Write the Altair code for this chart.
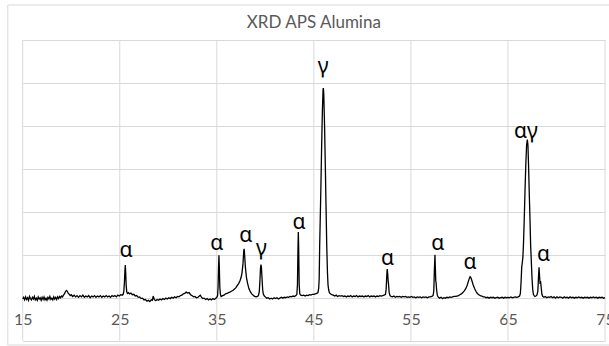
import altair as alt
import pandas as pd

# 2-theta positions (degrees) and relative intensity (in gridline units)
two_theta = [
    15.0, 15.1, 15.2, 15.3, 15.4, 15.5, 15.6, 15.7, 15.8, 15.9,
    16.0, 16.1, 16.2, 16.3, 16.4, 16.5, 16.6, 16.7, 16.8, 16.9,
    17.0, 17.1, 17.2, 17.3, 17.4, 17.5, 17.6, 17.7, 17.8, 17.9,
    18.0, 18.1, 18.2, 18.3, 18.4, 18.5, 18.6, 18.7, 18.8, 18.9,
    19.0, 19.1, 19.2, 19.3, 19.4, 19.5, 19.6, 19.7, 19.8, 19.9,
    20.0, 20.15, 20.3, 20.45, 20.6, 20.75, 20.9, 21.05, 21.2, 21.35,
    21.5, 21.65, 21.8, 21.95, 22.1, 22.25, 22.4, 22.55, 22.7, 22.85,
    23.0, 23.15, 23.3, 23.45, 23.6, 23.75, 23.9, 24.05, 24.2, 24.35,
    24.5, 24.65, 24.8, 24.95, 25.1, 25.25, 25.35, 25.42, 25.48, 25.53,
    25.57, 25.61, 25.66, 25.72, 25.8, 25.9, 26.0, 26.15, 26.3, 26.45,
    26.6, 26.75, 26.9, 27.05, 27.2, 27.35, 27.5, 27.65, 27.8, 27.95,
    28.1, 28.25, 28.35, 28.45, 28.55, 28.7, 28.85, 29.0, 29.15, 29.3,
    29.45, 29.6, 29.75, 29.9, 30.05, 30.2, 30.35, 30.5, 30.65, 30.8,
    30.95, 31.1, 31.25, 31.4, 31.55, 31.7, 31.85, 32.0, 32.15, 32.3,
    32.45, 32.6, 32.75, 32.9, 33.05, 33.2, 33.3, 33.4, 33.55, 33.7,
    33.85, 34.0, 34.15, 34.3, 34.45, 34.6, 34.75, 34.9, 35.0, 35.08,
    35.13, 35.18, 35.22, 35.26, 35.31, 35.37, 35.45, 35.6, 35.75, 35.9,
    36.05, 36.2, 36.35, 36.5, 36.65, 36.8, 36.95, 37.1, 37.25, 37.4,
    37.5, 37.6, 37.7, 37.78, 37.82, 37.88, 37.95, 38.05, 38.15, 38.3,
    38.45, 38.6, 38.75, 38.9, 39.05, 39.2, 39.3, 39.38, 39.45, 39.5,
    39.55, 39.6, 39.66, 39.73, 39.8, 39.9, 40.0, 40.15, 40.3, 40.45,
    40.6, 40.75, 40.9, 41.05, 41.2, 41.35, 41.5, 41.65, 41.8, 41.95,
    42.1, 42.25, 42.4, 42.55, 42.7, 42.85, 43.0, 43.15, 43.25, 43.31,
    43.36, 43.4, 43.44, 43.49, 43.55, 43.65, 43.8, 43.95, 44.1, 44.25,
    44.4, 44.55, 44.7, 44.85, 45.0, 45.15, 45.3, 45.42, 45.5, 45.55,
    45.6, 45.66, 45.72, 45.8, 45.88, 45.95, 45.98, 46.02, 46.1, 46.18,
    46.25, 46.33, 46.4, 46.46, 46.53, 46.6, 46.7, 46.85, 47.0, 47.15,
    47.3, 47.45, 47.6, 47.75, 47.9, 48.05, 48.2, 48.35, 48.5, 48.65,
    48.8, 48.95, 49.1, 49.25, 49.4, 49.55, 49.7, 49.85, 50.0, 50.15,
    50.3, 50.45, 50.6, 50.75, 50.9, 51.05, 51.2, 51.35, 51.5, 51.65,
    51.8, 51.95, 52.1, 52.25, 52.38, 52.45, 52.51, 52.56, 52.61, 52.66,
    52.7, 52.76, 52.85, 52.95, 53.1, 53.25, 53.4, 53.55, 53.7, 53.85,
    54.0, 54.15, 54.3, 54.45, 54.6, 54.75, 54.9, 55.05, 55.2, 55.35,
    55.5, 55.65, 55.8, 55.95, 56.1, 56.25, 56.4, 56.55, 56.7, 56.85,
    57.0, 57.15, 57.28, 57.36, 57.42, 57.48, 57.52, 57.56, 57.6, 57.65,
    57.72, 57.8, 57.95, 58.1, 58.25, 58.4, 58.55, 58.7, 58.85, 59.0,
    59.15, 59.3, 59.45, 59.6, 59.75, 59.9, 60.05, 60.2, 60.35, 60.5,
    60.65, 60.8, 60.92, 61.02, 61.1, 61.18, 61.28, 61.4, 61.55, 61.7,
    61.85, 62.0, 62.15, 62.3, 62.45, 62.6, 62.75, 62.9, 63.05, 63.2,
    63.35, 63.5, 63.65, 63.8, 63.95, 64.1, 64.25, 64.4, 64.55, 64.7,
    64.85, 65.0, 65.15, 65.3, 65.45, 65.6, 65.75, 65.9, 66.05, 66.2,
    66.28, 66.35, 66.42, 66.48, 66.54, 66.6, 66.68, 66.76, 66.84, 66.92,
    67.0, 67.06, 67.12, 67.2, 67.27, 67.34, 67.4, 67.47, 67.55, 67.62,
    67.7, 67.78, 67.88, 67.98, 68.08, 68.14, 68.2, 68.26, 68.31, 68.36,
    68.42, 68.5, 68.58, 68.7, 68.85, 69.0, 69.15, 69.3, 69.45, 69.6,
    69.75, 69.9, 70.05, 70.2, 70.35, 70.5, 70.65, 70.8, 70.95, 71.1,
    71.25, 71.4, 71.55, 71.7, 71.85, 72.0, 72.15, 72.3, 72.45, 72.6,
    72.75, 72.9, 73.05, 73.2, 73.35, 73.5, 73.65, 73.8, 73.95, 74.1,
    74.25, 74.4, 74.55, 74.7, 74.85, 75.0,
]

intensity = [
    -0.03, 0.01, -0.05, 0.02, -0.04, 0.00, -0.06, 0.03, -0.02, -0.05,
    0.01, -0.03, 0.03, -0.05, -0.01, -0.06, 0.02, -0.03, 0.00, -0.06,
    0.01, -0.04, 0.02, -0.05, -0.01, -0.06, 0.01, -0.03, 0.03, -0.04,
    -0.01, -0.05, 0.02, -0.03, 0.01, -0.04, 0.02, -0.02, 0.03, 0.00,
    0.04, 0.02, 0.06, 0.09, 0.14, 0.17, 0.15, 0.10, 0.08, 0.05,
    0.07, 0.03, 0.06, 0.02, 0.05, 0.01, 0.05, 0.02, 0.06, 0.01,
    0.04, 0.02, 0.05, 0.00, 0.04, 0.02, 0.05, 0.01, 0.04, 0.02,
    0.05, 0.01, 0.04, 0.02, 0.05, 0.02, 0.04, 0.01, 0.05, 0.03,
    0.05, 0.02, 0.06, 0.04, 0.07, 0.06, 0.08, 0.15, 0.35, 0.62,
    0.76, 0.60, 0.30, 0.14, 0.10, 0.12, 0.09, 0.11, 0.07, 0.08,
    0.04, 0.05, 0.01, 0.02, -0.02, -0.01, -0.05, -0.04, -0.08, -0.06,
    -0.09, -0.05, -0.06, 0.04, -0.04, -0.07, -0.04, -0.06, -0.03, -0.05,
    -0.02, -0.04, -0.01, -0.03, 0.00, -0.02, 0.01, -0.01, 0.02, 0.00,
    0.03, 0.02, 0.05, 0.06, 0.09, 0.10, 0.13, 0.11, 0.12, 0.07,
    0.05, 0.02, 0.03, 0.00, 0.01, 0.04, 0.06, 0.02, -0.02, -0.01,
    -0.04, -0.02, -0.05, -0.03, -0.05, -0.02, -0.04, -0.01, 0.01, 0.05,
    0.25, 0.70, 0.99, 0.72, 0.25, 0.08, 0.03, 0.05, 0.06, 0.09,
    0.10, 0.12, 0.13, 0.15, 0.17, 0.20, 0.23, 0.28, 0.33, 0.40,
    0.47, 0.58, 0.80, 1.10, 1.14, 0.95, 0.70, 0.48, 0.36, 0.22,
    0.14, 0.09, 0.06, 0.03, 0.02, 0.03, 0.06, 0.15, 0.42, 0.68,
    0.77, 0.70, 0.45, 0.18, 0.08, 0.04, 0.02, -0.01, 0.00, -0.03,
    -0.01, -0.03, 0.00, -0.02, 0.00, -0.03, -0.01, 0.01, -0.01, 0.01,
    0.00, 0.02, 0.01, 0.03, 0.02, 0.04, 0.03, 0.05, 0.08, 0.30,
    1.10, 1.53, 1.10, 0.30, 0.09, 0.06, 0.05, 0.06, 0.04, 0.06,
    0.05, 0.07, 0.06, 0.08, 0.08, 0.09, 0.10, 0.12, 0.22, 0.45,
    1.20, 1.85, 2.50, 3.50, 4.35, 4.85, 4.88, 4.75, 4.05, 3.10,
    2.20, 1.20, 0.60, 0.30, 0.18, 0.12, 0.09, 0.07, 0.06, 0.04,
    0.06, 0.03, 0.05, 0.04, 0.05, 0.03, 0.04, 0.02, 0.04, 0.03,
    0.05, 0.02, 0.04, 0.03, 0.05, 0.02, 0.04, 0.03, 0.04, 0.02,
    0.04, 0.03, 0.05, 0.02, 0.04, 0.03, 0.04, 0.02, 0.04, 0.03,
    0.05, 0.04, 0.05, 0.06, 0.08, 0.20, 0.50, 0.67, 0.55, 0.38,
    0.30, 0.12, 0.05, 0.03, 0.02, 0.04, 0.01, 0.03, 0.02, 0.03,
    0.01, 0.03, 0.02, 0.03, 0.01, 0.02, 0.01, 0.03, 0.01, 0.02,
    0.00, 0.02, 0.01, 0.02, 0.00, 0.02, 0.01, 0.02, 0.00, 0.02,
    0.02, 0.03, 0.05, 0.15, 0.65, 1.00, 0.70, 0.40, 0.34, 0.18,
    0.06, 0.02, -0.01, 0.01, -0.02, 0.00, -0.01, 0.01, 0.00, 0.02,
    0.01, 0.02, 0.03, 0.03, 0.04, 0.05, 0.07, 0.09, 0.12, 0.16,
    0.21, 0.29, 0.38, 0.45, 0.49, 0.47, 0.40, 0.31, 0.22, 0.15,
    0.10, 0.07, 0.05, 0.04, 0.02, 0.02, 0.00, 0.01, -0.01, 0.01,
    0.00, 0.01, -0.01, 0.00, 0.01, -0.01, 0.00, 0.01, -0.01, 0.01,
    0.00, 0.01, 0.00, 0.02, 0.00, 0.01, 0.02, 0.01, 0.02, 0.04,
    0.10, 0.35, 0.72, 0.82, 0.95, 1.25, 1.84, 2.50, 3.10, 3.55,
    3.68, 3.55, 3.10, 2.40, 1.84, 1.20, 0.90, 0.50, 0.20, 0.08,
    0.05, 0.03, 0.04, 0.06, 0.15, 0.45, 0.71, 0.50, 0.32, 0.39,
    0.25, 0.08, 0.03, 0.01, 0.03, 0.00, 0.02, 0.01, 0.03, 0.00,
    0.02, -0.01, 0.02, 0.00, 0.02, 0.01, -0.01, 0.02, 0.00, 0.01,
    -0.01, 0.02, 0.00, 0.01, -0.01, 0.01, 0.00, 0.02, 0.00, 0.01,
    -0.01, 0.01, 0.00, 0.01, -0.01, 0.01, 0.00, 0.02, 0.00, 0.01,
    -0.01, 0.01, 0.00, 0.01, -0.01, 0.00,
]

# Phase annotations
label_x = [25.64, 35.0, 38.0, 39.61, 43.47, 45.95, 52.6, 57.78, 61.09, 66.86, 68.67]
label_y = [0.95, 1.12, 1.30, 1.0, 1.61, 5.23, 0.76, 1.11, 0.66, 3.72, 0.85]
label_text = ["α", "α", "α", "γ", "α", "γ", "α", "α", "α", "αγ", "α"]

x_ticks = [15, 25, 35, 45, 55, 65, 75]
y_grid = [-1, 0, 1, 2, 3, 4, 5, 6]
chart_title = "XRD APS Alumina"

assert len(two_theta) == len(intensity)

W, H = 582.3, 300.7
GRID = "#D9D9D9"
GRAY = "#595959"

xs = alt.Scale(domain=[15, 75], nice=False, zero=False)
ys = alt.Scale(domain=[-1, 6], nice=False, zero=False)

x_axis = alt.Axis(
    values=x_ticks, grid=False, domain=False, ticks=False, tickSize=0,
    labelFont="Lato", labelFontSize=16, labelColor=GRAY,
    labelBaseline="alphabetic", labelPadding=25.7, offset=-42.4,
    title=None, labelFlush=False,
)
y_axis = alt.Axis(
    values=y_grid, grid=True, gridColor=GRID, gridWidth=1,
    labels=False, ticks=False, domain=False, title=None,
)

pattern = pd.DataFrame({"two_theta": two_theta, "intensity": intensity})
labels_df = pd.DataFrame({"x": label_x, "y": label_y, "t": label_text})
vgrid_df = pd.DataFrame({"v": x_ticks})

frame = alt.Chart(pd.DataFrame({"k": [0]})).mark_rect(
    fill="transparent", stroke=GRID, strokeWidth=1
).encode(
    x=alt.value(-14.9), x2=alt.value(600), y=alt.value(-35), y2=alt.value(305)
)

vgrid = alt.Chart(vgrid_df).mark_rule(color=GRID, strokeWidth=1).encode(
    x=alt.X("v:Q", scale=xs, axis=x_axis)
)

line = alt.Chart(pattern).mark_line(color="#000000", strokeWidth=1.3).encode(
    x=alt.X("two_theta:Q", scale=xs, axis=x_axis),
    y=alt.Y("intensity:Q", scale=ys, axis=y_axis),
)

labels = alt.Chart(labels_df).mark_text(
    font="Noto Sans", fontSize=21, baseline="alphabetic", align="center", color="#000000"
).encode(
    x=alt.X("x:Q", scale=xs, axis=x_axis),
    y=alt.Y("y:Q", scale=ys, axis=y_axis),
    text="t:N",
)

title = alt.Chart(pd.DataFrame({"t": [chart_title]})).mark_text(
    font="Lato", fontSize=17, color=GRAY, baseline="alphabetic", align="center"
).encode(
    x=alt.value(W / 2), y=alt.value(-11.7), text="t:N"
)

chart = alt.layer(frame, vgrid, line, labels, title).properties(
    width=W, height=H,
    autosize=alt.AutoSizeParams(type="none"),
    padding={"left": 22.7, "top": 40, "right": 4, "bottom": 5.3},
    background="#FFFFFF",
).configure_view(stroke=None)

chart.save("out.html", embed_options={"renderer": "svg", "actions": False})
